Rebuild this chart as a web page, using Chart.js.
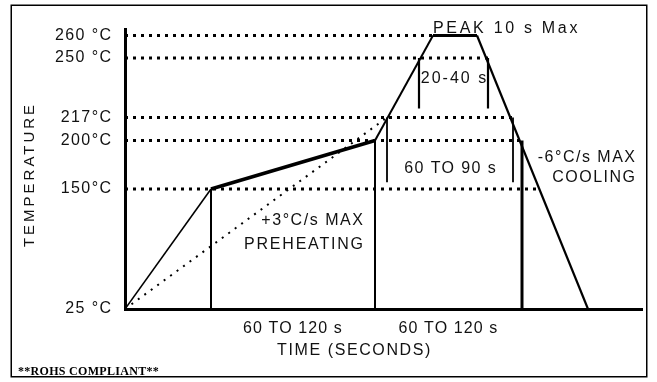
<!DOCTYPE html>
<html>
<head>
<meta charset="utf-8">
<script src="https://cdn.jsdelivr.net/npm/chart.js@4.4.1/dist/chart.umd.min.js"></script>
<style>
html, body { margin: 0; padding: 0; background: #fff; }
#wrap { width: 657px; height: 382px; }
</style>
</head>
<body>
<div id="wrap"><canvas id="c" width="657" height="382"></canvas></div>
<script>
// ---------------- DATA (schematic time units, °C) ----------------
const profileTime = [0, 86, 250, 308, 352, 463];
const profileTemp = [25, 150, 200, 260, 260, 25];

const refTemps = [260, 250, 217, 200, 150];
const refLineEndTime = [308, 363, 388, 397, 414];

const rampTime = [0, 262];          // +3 °C/s max preheating slope
const rampTemp = [25, 217];

const phaseBoundaryTime = [86, 250, 397];
const phaseBoundaryTemp = [150, 200, 200];
const phaseLabels = ['60 TO 120 s', '60 TO 120 s'];

const peakWindowTime = [294, 363];      // 20-40 s above 250 °C
const peakWindowTemp = [250, 222];
const liquidusWindowTime = [262, 388];  // 60 TO 90 s above 217 °C
const liquidusWindowTemp = [217, 157];

const yTickValues = [25, 150, 200, 217, 250, 260];
const yTickLabels = ['25 °C', '150°C', '200°C', '217°C', '250 °C', '260 °C'];

// ---------------- LAYOUT / STYLE ----------------
const FONT = '"Liberation Sans", Arial, Helvetica, sans-serif';
const INK = '#111';
// schematic (non-linear) temperature axis: [value, fraction of axis height]
const Y_ANCHORS = [[25, 0], [150, 0.42857], [200, 0.60179], [217, 0.68393],
                   [250, 0.89643], [260, 0.97679], [263, 1]];
const AXIS_TEXT = {
  x: { tickSpacing: 1.1, titleSpacing: 1.6, titleShiftX: -29, titleShiftY: 0 },
  y: { tickSpacing: 1.4, titleSpacing: 3, titleShiftX: 0, titleShiftY: 5.5 }
};
const PROFILE_SEG_WIDTH = [1.6, 3.5, 2, 3, 2.2];
const PHASE_WIDTH = [2, 2, 3];

function interp(v, a, from, to) {
  for (let i = 1; i < a.length; i++) {
    if (v <= a[i][from] || i === a.length - 1) {
      const p0 = a[i - 1], p1 = a[i];
      return p0[to] + (v - p0[from]) * (p1[to] - p0[to]) / (p1[from] - p0[from]);
    }
  }
}

class SpacedLinearScale extends Chart.LinearScale {
  static id = 'spacedLinear';
  static defaults = {};
  drawLabels(chartArea) {
    const s = AXIS_TEXT[this.axis];
    this.ctx.save();
    this.ctx.letterSpacing = s.tickSpacing + 'px';
    this.ctx.translate(this.axis === 'y' ? s.tickSpacing : 0, 0);
    super.drawLabels(chartArea);
    this.ctx.restore();
  }
  drawTitle() {
    const s = AXIS_TEXT[this.axis];
    this.ctx.save();
    this.ctx.letterSpacing = s.titleSpacing + 'px';
    this.ctx.translate(s.titleShiftX, s.titleShiftY);
    super.drawTitle();
    this.ctx.restore();
  }
}
class SchematicTempScale extends SpacedLinearScale {
  static id = 'schematicTemp';
  static defaults = {};
  getPixelForValue(value) {
    if (value === null || value === undefined || isNaN(value)) return NaN;
    const f = interp(value, Y_ANCHORS, 0, 1);
    return this.bottom - f * (this.bottom - this.top);
  }
  getValueForPixel(pixel) {
    const f = (this.bottom - pixel) / (this.bottom - this.top);
    return interp(f, Y_ANCHORS, 1, 0);
  }
}
Chart.register(SpacedLinearScale, SchematicTempScale);

const pts = (ts, vs) => ts.map((t, i) => ({ x: t, y: vs[i] }));
const line = (extra) => Object.assign({
  borderColor: '#000', pointRadius: 0, pointHoverRadius: 0, fill: false,
  tension: 0, borderWidth: 2, borderCapStyle: 'butt'
}, extra);

const datasets = [
  line({ label: 'Reflow profile', data: pts(profileTime, profileTemp),
         borderJoinStyle: 'round',
         segment: { borderWidth: c => PROFILE_SEG_WIDTH[c.p0DataIndex] } }),
  ...refTemps.map((T, i) => line({ label: T + ' °C level',
         data: [{ x: 0, y: T }, { x: refLineEndTime[i], y: T }],
         borderDash: [3, 5], borderWidth: 3 })),
  line({ label: '+3 °C/s max', data: pts(rampTime, rampTemp), borderDash: [2, 6], borderWidth: 2 }),
  ...phaseBoundaryTime.map((t, i) => line({ label: 'phase ' + i,
         data: [{ x: t, y: 25 }, { x: t, y: phaseBoundaryTemp[i] }], borderWidth: PHASE_WIDTH[i] })),
  ...peakWindowTime.map((t, i) => line({ label: '20-40 s ' + i,
         data: [{ x: t, y: peakWindowTemp[0] }, { x: t, y: peakWindowTemp[1] }], borderWidth: 2.2 })),
  ...liquidusWindowTime.map((t, i) => line({ label: '60-90 s ' + i,
         data: [{ x: t, y: liquidusWindowTemp[0] }, { x: t, y: liquidusWindowTemp[1] }], borderWidth: 1.8 }))
];

const phaseMid = phaseLabels.map((_, i) => (phaseBoundaryTime[i] + phaseBoundaryTime[i + 1]) / 2);
const textAnnotations = [
  { text: 'PEAK 10 s Max', t: 308, T: 261.2, align: 'left', spacing: 2.7 },
  { text: '20-40 s', t: (peakWindowTime[0] + peakWindowTime[1]) / 2, T: 236, align: 'center', spacing: 2 },
  { text: '60 TO 90 s', t: (liquidusWindowTime[0] + liquidusWindowTime[1]) / 2, T: 166.5, align: 'center', spacing: 1.4 },
  { text: '+3°C/s MAX', t: 238, T: 112.5, align: 'right', spacing: 1.55 },
  { text: 'PREHEATING', t: 238, T: 87.5, align: 'right', spacing: 1.8 },
  { text: '-6°C/s MAX', t: 510, T: 177.8, align: 'right', spacing: 1.5 },
  { text: 'COOLING', t: 510, T: 157.2, align: 'right', spacing: 1.5 }
];

const decorPlugin = {
  id: 'decor',
  beforeDraw(chart) {
    const ctx = chart.ctx;
    ctx.save();
    ctx.fillStyle = '#fff';
    ctx.fillRect(0, 0, chart.width, chart.height);
    ctx.strokeStyle = '#000';
    ctx.lineWidth = 1.5;
    ctx.strokeRect(11.25, 5.25, 635.5, 371.5);
    ctx.restore();
  },
  afterDraw(chart) {
    const ctx = chart.ctx, xs = chart.scales.x, ys = chart.scales.y;
    ctx.save();
    ctx.fillStyle = INK;
    ctx.font = '16px ' + FONT;
    ctx.textBaseline = 'alphabetic';
    textAnnotations.forEach(a => {
      ctx.letterSpacing = a.spacing + 'px';
      ctx.textAlign = a.align;
      let x = xs.getPixelForValue(a.t);
      if (a.align === 'right') x += a.spacing;
      if (a.align === 'center') x += a.spacing / 2;
      ctx.fillText(a.text, x, ys.getPixelForValue(a.T));
    });
    ctx.letterSpacing = '0.3px';
    ctx.textAlign = 'left';
    ctx.font = 'bold 12px "Liberation Serif", "Times New Roman", serif';
    ctx.fillStyle = '#000';
    ctx.fillText('**ROHS COMPLIANT**', 18, 375);
    ctx.restore();
  }
};

new Chart(document.getElementById('c'), {
  type: 'line',
  data: { datasets },
  options: {
    responsive: false,
    animation: false,
    events: [],
    layout: { padding: { left: 0, right: 15, top: 29, bottom: 0 } },
    plugins: { legend: { display: false }, tooltip: { enabled: false } },
    scales: {
      x: {
        type: 'spacedLinear', min: 0, max: 517,
        grid: { display: false, drawTicks: false },
        border: { display: true, color: '#000', width: 3 },
        afterBuildTicks: s => { s.ticks = phaseMid.map(v => ({ value: v })); },
        afterFit: s => { s.height = 73; },
        ticks: { autoSkip: false, maxRotation: 0, padding: 10, color: INK,
                 font: { family: FONT, size: 16 },
                 callback: (v, i) => phaseLabels[i] },
        title: { display: true, text: 'TIME (SECONDS)', color: INK,
                 font: { family: FONT, size: 16 }, padding: { top: 0, bottom: 22 } }
      },
      y: {
        type: 'schematicTemp', min: 25, max: 263,
        grid: { display: false, drawTicks: false },
        border: { display: true, color: '#000', width: 3 },
        afterBuildTicks: s => { s.ticks = yTickValues.map(v => ({ value: v })); },
        afterFit: s => { s.width = 125; },
        ticks: { autoSkip: false, padding: 14, color: INK,
                 font: { family: FONT, size: 16 },
                 callback: v => yTickLabels[yTickValues.indexOf(v)] },
        title: { display: true, text: 'TEMPERATURE', color: INK,
                 font: { family: FONT, size: 15 }, padding: { top: 21, bottom: 0 } }
      }
    }
  },
  plugins: [decorPlugin]
});
</script>
</body>
</html>
